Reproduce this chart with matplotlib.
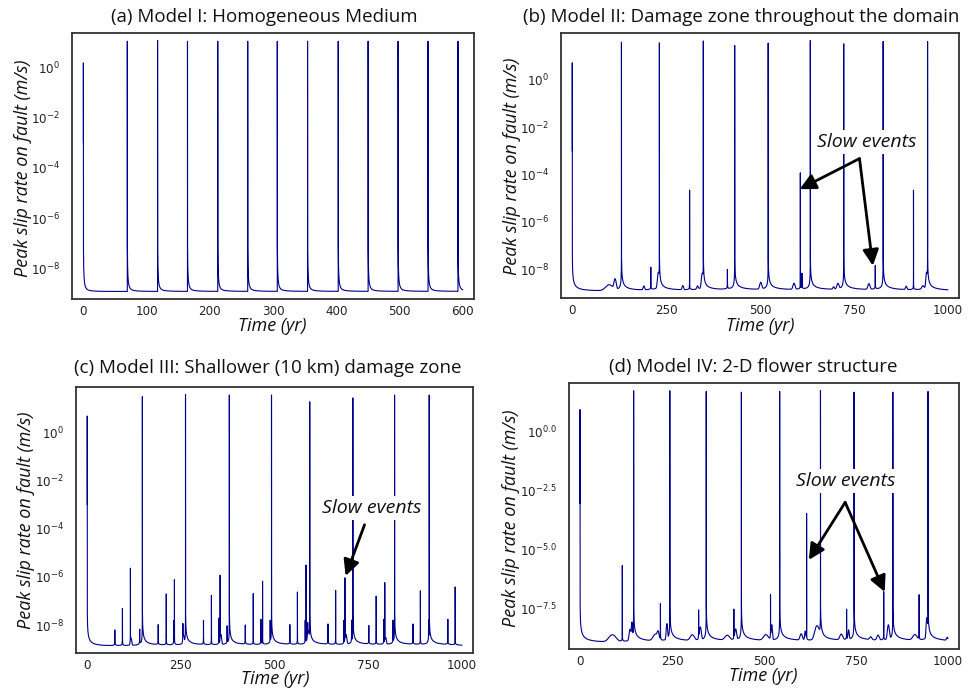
import numpy as np
import matplotlib
matplotlib.use("Agg")
import matplotlib.pyplot as plt
from matplotlib.ticker import FixedLocator, FixedFormatter, NullLocator

# ---------------- data: peak slip rate histories (log10 of m/s) ----------------
# Model I: homogeneous medium
a_end = 600
a_base = -8.91
a_start = -2.98
a_quake_t = [0.0, 69.5, 117.4, 164.7, 212.6, 260.0, 306.8, 354.7, 403.2, 450.5, 497.9, 545.3, 592.6]
a_quake_log = [0.17, 1.03, 1.06, 1.03, 1.03, 1.03, 1.03, 1.03, 1.03, 1.03, 1.03, 1.03, 1.03]
a_slow_t = []
a_slow_log = []
a_swell_t = []
a_swell_log = []
a_swell_w = []

# Model II: damage zone throughout the domain
b_end = 1000
b_base = -8.98
b_start = -3.0
b_quake_t = [0.0, 131.0, 232.0, 349.0, 432.6, 521.8, 634.0, 723.0, 828.0, 946.3]
b_quake_log = [0.71, 1.58, 1.55, 1.63, 1.44, 1.54, 1.65, 1.51, 1.61, 1.61]
b_slow_t = [209.2, 312.5, 413.2, 607.4, 611.7, 807.0, 908.8]
b_slow_log = [-7.96, -4.66, -8.08, -3.93, -8.27, -7.89, -4.66]
b_swell_t = [98.0, 114.0, 190.7, 229.0, 294.4, 333.4, 346.0, 502.0, 590.5, 696.0, 707.5, 790.0, 889.4, 933.5, 943.5]
b_swell_log = [-8.7, -8.45, -8.78, -8.2, -8.76, -8.8, -8.25, -8.62, -8.66, -8.85, -8.68, -8.68, -8.8, -8.8, -8.2]
b_swell_w = [12.0, 3.5, 2.5, 2.5, 2.5, 2.5, 2.5, 3.5, 3.5, 2.5, 3.5, 3.5, 2.5, 3.5, 2.0]

# Model III: shallower (10 km) damage zone
c_end = 1000
c_base = -8.93
c_start = -3.0
c_quake_t = [0.0, 147.2, 262.4, 379.4, 492.0, 594.1, 709.2, 820.6, 913.1]
c_quake_log = [0.67, 1.47, 1.56, 1.54, 1.54, 1.26, 1.42, 1.54, 1.54]
c_slow_t = [73.7, 94.0, 115.3, 140.0, 189.5, 211.0, 231.0, 232.8, 255.4, 310.4, 331.6, 351.5,
            354.8, 373.5, 422.0, 443.3, 463.7, 468.1, 488.5, 541.0, 561.2, 582.0, 584.3, 588.7,
            642.8, 663.2, 685.4, 688.0, 705.9, 751.8, 771.5, 791.8, 794.4, 816.5, 869.8, 889.5,
            911.4, 962.8, 982.4]
c_slow_log = [-8.31, -7.33, -5.64, -8.29, -8.05, -6.71, -7.86, -6.12, -8.05, -7.86, -6.77, -7.75,
              -5.93, -8.12, -8.07, -6.70, -7.80, -6.18, -7.86, -8.05, -6.63, -7.85, -5.51, -8.1,
              -8.02, -6.56, -7.85, -6.04, -7.85, -8.10, -6.80, -7.80, -6.24, -7.85, -8.02, -6.58,
              -7.85, -7.80, -6.42]
c_swell_t = [117.0, 257.0, 357.0, 590.0, 691.0, 797.0]
c_swell_log = [-8.6, -8.5, -8.45, -8.3, -8.45, -8.6]
c_swell_w = [2.0, 2.0, 2.0, 2.5, 2.5, 2.0]

# Model IV: 2-D flower structure
d_end = 1000
d_base = -9.03
d_start = -3.06
d_quake_t = [0.0, 145.7, 244.0, 343.0, 438.5, 542.6, 653.5, 744.8, 850.2, 945.8]
d_quake_log = [0.91, 1.71, 1.71, 1.68, 1.65, 1.68, 1.72, 1.65, 1.65, 1.68]
d_slow_t = [114.9, 218.5, 322.3, 418.1, 517.7, 615.8, 724.5, 825.4, 921.6]
d_slow_log = [-5.70, -7.33, -7.61, -7.57, -6.94, -3.49, -7.57, -6.81, -6.94]
d_swell_t = [88.0, 136.0, 141.0, 205.0, 212.0, 236.0, 305.0, 327.0, 400.0, 423.0, 505.0,
             521.0, 601.0, 612.0, 644.0, 710.0, 730.0, 790.0, 810.0, 838.0, 910.0, 942.5, 998.0]
d_swell_log = [-8.68, -8.45, -8.15, -8.68, -8.6, -8.2, -8.72, -8.35, -8.75, -8.45, -8.72,
               -8.25, -8.68, -8.55, -8.3, -8.7, -8.5, -8.85, -8.75, -8.25, -8.72, -7.95, -8.85]
d_swell_w = [12.0, 3.0, 1.5, 8.0, 3.0, 2.0, 7.0, 3.0, 8.0, 3.0, 8.0,
             2.0, 4.0, 2.0, 7.0, 5.0, 2.0, 4.0, 4.0, 3.0, 7.0, 2.0, 2.5]

# tick positions and labels
ab_xticks = [0, 100, 200, 300, 400, 500, 600]
long_xticks = [0, 250, 500, 750, 1000]
decade_yticks = [1e0, 1e-2, 1e-4, 1e-6, 1e-8]
decade_ylabels = [r'$10^{0}$', r'$10^{-2}$', r'$10^{-4}$', r'$10^{-6}$', r'$10^{-8}$']
half_yticks = [10 ** 0.0, 10 ** -2.5, 10 ** -5.0, 10 ** -7.5]
half_ylabels = [r'$10^{0.0}$', r'$10^{-2.5}$', r'$10^{-5.0}$', r'$10^{-7.5}$']

# annotation anchors: (time, log10 slip rate)
b_note = (785.0, -2.64)
b_arrow_from = (765.0, -3.33)
b_arrow_to = [(605.6, -4.62), (800.5, -7.85)]
c_note = (759.8, -3.14)
c_arrow_from = (740.4, -3.84)
c_arrow_to = [(689.9, -5.96)]
d_note = (722.2, -2.10)
d_arrow_from = (720.6, -3.02)
d_arrow_to = [(621.8, -5.46), (828.1, -6.82)]


# ---------------- building the slip-rate series ----------------
def pulse(t, t0, vp, tail_after, tail_before, power):
    """Omori-type spike: vp at t0, about `tail` one year away on each side."""
    dt = np.abs(t - t0)
    tail = np.where(t >= t0, tail_after, tail_before)
    return vp / (1.0 + dt * (vp / tail) ** (1.0 / power)) ** power


def slip_history(t_end, base_log, start_log, quake_t, quake_log, slow_t, slow_log,
                 swell_t, swell_log, swell_w, after, before, slow_tail, power):
    t = np.linspace(0.0, t_end, int(t_end * 40) + 1)
    t = np.union1d(t, np.array(quake_t + slow_t, dtype=float))
    base = 10.0 ** base_log
    v = np.full_like(t, base)
    for t0, lp in zip(quake_t, quake_log):
        v += pulse(t, t0, 10.0 ** lp, after, before, power)
    for t0, lp in zip(slow_t, slow_log):
        v += pulse(t, t0, 10.0 ** lp, slow_tail, slow_tail, 1.0)
    for c, lp, w in zip(swell_t, swell_log, swell_w):
        v += (10.0 ** lp - base) * np.exp(-((t - c) / w) ** 2)
    t = np.concatenate([[0.0], t])
    v = np.concatenate([[10.0 ** start_log], v])
    return t, v


# ---------------- figure ----------------
W, H = 970, 694
fig = plt.figure(figsize=(W / 100, H / 100), dpi=100)

LINE = '#00008b'
TITLE_FONT = dict(family='Open Sans', size=13.5)
LABEL_FONT = dict(family='Open Sans', size=13, style='italic')
NOTE_FONT = dict(family='Open Sans', size=14, style='italic')


def px_box(left, right, top, bottom):
    return [left / W, 1 - bottom / H, (right - left) / W, (bottom - top) / H]


panels = [
    dict(box=px_box(72, 474, 33, 299),
         series=slip_history(a_end, a_base, a_start, a_quake_t, a_quake_log, a_slow_t, a_slow_log,
                             a_swell_t, a_swell_log, a_swell_w, 4e-9, 1e-14, 3e-10, 1.5),
         xticks=ab_xticks, yticks=decade_yticks, ylabels=decade_ylabels,
         title='(a) Model I: Homogeneous Medium', title_xy=(264, 17),
         ylab_xy=(23, 168), xlab_xy=(272, 326), note=None),
    dict(box=px_box(561, 959, 33, 298),
         series=slip_history(b_end, b_base, b_start, b_quake_t, b_quake_log, b_slow_t, b_slow_log,
                             b_swell_t, b_swell_log, b_swell_w, 8e-9, 3e-9, 3e-10, 1.0),
         xticks=long_xticks, yticks=decade_yticks, ylabels=decade_ylabels,
         title='(b) Model II: Damage zone throughout the domain', title_xy=(741, 17),
         ylab_xy=(512, 166), xlab_xy=(760, 326),
         note=(b_note, b_arrow_from, b_arrow_to)),
    dict(box=px_box(76, 473, 387, 653),
         series=slip_history(c_end, c_base, c_start, c_quake_t, c_quake_log, c_slow_t, c_slow_log,
                             c_swell_t, c_swell_log, c_swell_w, 8e-9, 2e-9, 3e-10, 1.0),
         xticks=long_xticks, yticks=decade_yticks, ylabels=decade_ylabels,
         title='(c) Model III: Shallower (10 km) damage zone', title_xy=(268, 368),
         ylab_xy=(26, 520), xlab_xy=(275, 679),
         note=(c_note, c_arrow_from, c_arrow_to)),
    dict(box=px_box(569, 959, 383, 649),
         series=slip_history(d_end, d_base, d_start, d_quake_t, d_quake_log, d_slow_t, d_slow_log,
                             d_swell_t, d_swell_log, d_swell_w, 1e-8, 3e-9, 3e-10, 1.0),
         xticks=long_xticks, yticks=half_yticks, ylabels=half_ylabels,
         title='(d) Model IV: 2-D flower structure', title_xy=(753, 367),
         ylab_xy=(511, 518), xlab_xy=(763, 676),
         note=(d_note, d_arrow_from, d_arrow_to)),
]

for p in panels:
    ax = fig.add_axes(p['box'])
    t, v = p['series']
    ax.plot(t, v, color=LINE, lw=0.8, zorder=2)
    ax.set_yscale('log')
    ax.margins(x=0.03, y=0.03)
    ax.xaxis.set_major_locator(FixedLocator(p['xticks']))
    ax.yaxis.set_major_locator(FixedLocator(p['yticks']))
    ax.yaxis.set_major_formatter(FixedFormatter(p['ylabels']))
    ax.yaxis.set_minor_locator(NullLocator())
    ax.tick_params(axis='both', length=0, labelsize=8.6, colors='#222222')
    ax.tick_params(axis='x', pad=4)
    ax.tick_params(axis='y', pad=9)
    for s in ax.spines.values():
        s.set_color('#333333')
        s.set_linewidth(1.3)

    fig.text(p['title_xy'][0] / W, 1 - p['title_xy'][1] / H, p['title'],
             ha='center', va='center', color='#111111', **TITLE_FONT)
    fig.text(p['ylab_xy'][0] / W, 1 - p['ylab_xy'][1] / H, 'Peak slip rate on fault (m/s)',
             ha='center', va='center', rotation=90, color='#111111', **LABEL_FONT)
    fig.text(p['xlab_xy'][0] / W, 1 - p['xlab_xy'][1] / H, 'Time (yr)',
             ha='center', va='center', color='#111111', **LABEL_FONT)

    if p['note'] is not None:
        note, start, targets = p['note']
        ax.text(note[0], 10 ** note[1], 'Slow events', ha='center', va='center',
                color='#111111', zorder=4,
                bbox=dict(boxstyle='square,pad=0.15', facecolor='white', edgecolor='none'),
                **NOTE_FONT)
        for tx, ty in targets:
            ax.annotate('', xy=(tx, 10 ** ty), xytext=(start[0], 10 ** start[1]),
                        arrowprops=dict(arrowstyle='-|>', color='black', lw=2,
                                        mutation_scale=24, shrinkA=0, shrinkB=0),
                        zorder=5)

fig.savefig('out.png', dpi=100, facecolor='white')
